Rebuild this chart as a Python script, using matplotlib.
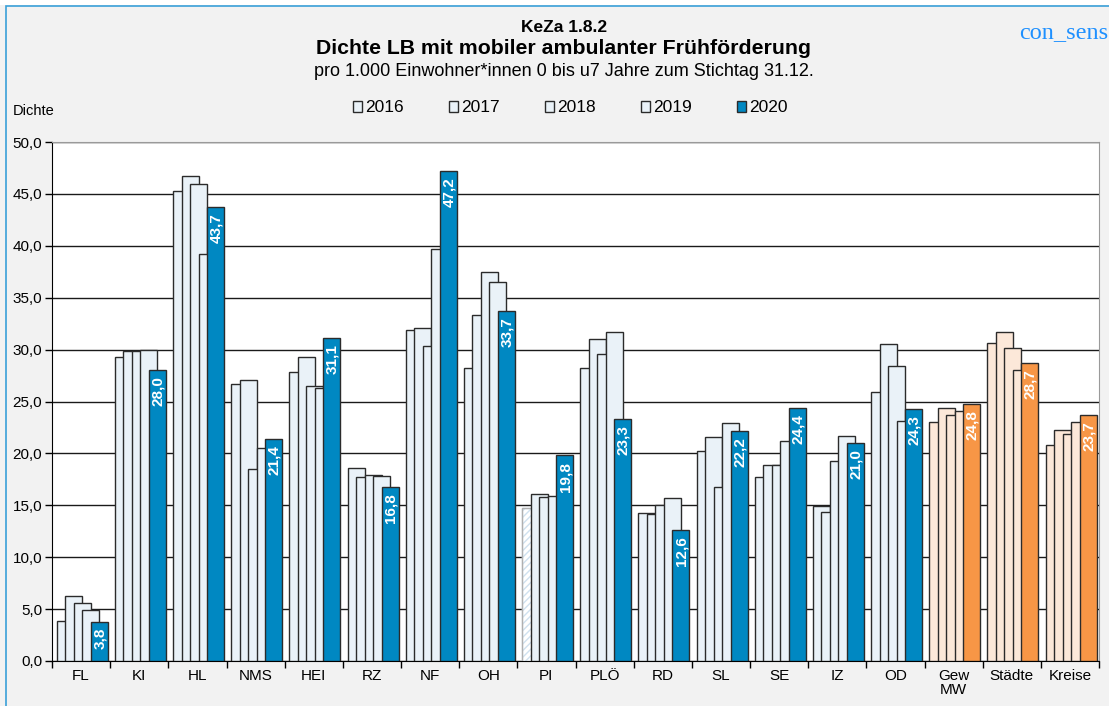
import numpy as np
import matplotlib.pyplot as plt
from matplotlib.patches import Rectangle, Patch

plt.rcParams['font.family'] = ['Liberation Sans', 'DejaVu Sans']

# Data
categories = ["FL", "KI", "HL", "NMS", "HEI", "RZ", "NF", "OH", "PI", "PLÖ",
              "RD", "SL", "SE", "IZ", "OD", "Gew\nMW", "Städte", "Kreise"]
years = ["2016", "2017", "2018", "2019", "2020"]
v2016 = [3.9, 29.3, 45.3, 26.7, 27.8, 18.6, 31.9, 28.2, 14.7, 28.2,
         14.3, 20.2, 17.7, 14.9, 25.9, 23.0, 30.6, 20.8]
v2017 = [6.3, 29.9, 46.7, 27.1, 29.3, 17.7, 32.1, 33.3, 16.1, 31.0,
         14.2, 21.6, 18.9, 14.4, 30.5, 24.4, 31.7, 22.3]
v2018 = [5.6, 29.9, 46.0, 18.5, 26.5, 17.9, 30.3, 37.5, 15.8, 29.6,
         15.0, 16.8, 18.9, 19.3, 28.4, 23.7, 30.2, 21.9]
v2019 = [4.9, 30.0, 39.2, 20.5, 26.3, 17.8, 39.7, 36.5, 15.9, 31.7,
         15.7, 22.9, 21.2, 21.7, 23.1, 24.1, 28.0, 23.0]
v2020 = [3.8, 28.0, 43.7, 21.4, 31.1, 16.8, 47.2, 33.7, 19.8, 23.3,
         12.6, 22.2, 24.4, 21.0, 24.3, 24.8, 28.7, 23.7]
series = [v2016, v2017, v2018, v2019, v2020]
nSummary = 3  # last three groups are summary values (orange)

lightBlue = "#EAF2F8"
darkBlue = "#0088C2"
lightOrange = "#FCE8D9"
darkOrange = "#F79646"
edge = "#2b2b2b"

fig = plt.figure(figsize=(11.09, 7.06), dpi=100, facecolor="#F2F2F2")
ax = fig.add_axes([52 / 1109, 45 / 706, 1047 / 1109, 519 / 706])
ax.set_facecolor("white")

x = np.arange(len(categories))
nCat = len(categories)
width = 0.292
step = 0.146

for k, vals in enumerate(series):
    last = k == len(series) - 1
    colors = []
    for i in range(nCat):
        summary = i >= nCat - nSummary
        if last:
            colors.append(darkOrange if summary else darkBlue)
        else:
            colors.append(lightOrange if summary else lightBlue)
    xs = x + (k - 2) * step + 0.02
    bars = ax.bar(xs, vals, width=width, color=colors, edgecolor=edge,
                  linewidth=1.0, zorder=3 + k)
    if k == 0:
        # PI 2016 is shown hatched
        pi = categories.index("PI")
        bars[pi].set_facecolor("white")
        bars[pi].set_hatch("/////")
        bars[pi].set_edgecolor("#cfe1ef")
        ax.bar(xs[pi], vals[pi], width=width, fill=False, edgecolor="#b0b0b0",
               linewidth=1.0, zorder=3.5)
    if last:
        for xi, v in zip(xs, vals):
            ax.text(xi + 0.01, v - 0.6, f"{v:.1f}".replace(".", ","), rotation=90,
                    ha="center", va="top", color="white", fontsize=11,
                    fontweight="bold", zorder=20)

ax.set_xlim(-0.5, nCat - 0.5)
ax.set_ylim(0, 50)
yt = np.arange(0, 51, 5)
ax.set_yticks(yt)
ax.set_yticklabels([f"{t:.1f}".replace(".", ",") for t in yt], fontsize=11)
ax.yaxis.grid(True, color="#1a1a1a", linewidth=1.0, zorder=1)
ax.set_axisbelow(True)
ax.tick_params(axis="y", direction="out", length=5, width=1, pad=2)

ax.set_xticks(x)
ax.set_xticklabels(categories, fontsize=11, linespacing=1.0)
ax.set_xticks(np.arange(-0.5, nCat, 1.0), minor=True)
ax.tick_params(axis="x", which="major", length=0, pad=6)
ax.tick_params(axis="x", which="minor", length=5, width=1, direction="out")

ax.spines["left"].set_color("black")
ax.spines["bottom"].set_color("black")
ax.spines["top"].set_color("#9a9a9a")
ax.spines["right"].set_color("#9a9a9a")

# Titles
fig.text(564 / 1109, 1 - 27 / 706, "KeZa 1.8.2", ha="center", va="center",
         fontsize=12.5, fontweight="bold")
fig.text(564 / 1109, 1 - 48 / 706, "Dichte LB mit mobiler ambulanter Frühförderung",
         ha="center", va="center", fontsize=15.3, fontweight="bold")
fig.text(564 / 1109, 1 - 72 / 706, "pro 1.000 Einwohner*innen 0 bis u7 Jahre zum Stichtag 31.12.",
         ha="center", va="center", fontsize=13)
fig.text(1019 / 1109, 1 - 33 / 706, "con_sens", ha="left", va="center",
         fontsize=17.5, color="#1E90FF", family="Liberation Serif")
fig.text(13 / 1109, 1 - 111 / 706, "Dichte", ha="left", va="center", fontsize=10.5)

# Legend
handles = [Patch(facecolor=lightBlue, edgecolor=edge, label=y) for y in years[:-1]]
handles.append(Patch(facecolor=darkBlue, edgecolor=edge, label=years[-1]))
fig.legend(handles=handles, ncol=5, loc="center", bbox_to_anchor=(570 / 1109, 1 - 108 / 706),
           frameon=False, fontsize=12.5, handlelength=0.55, handleheight=0.55,
           handletextpad=0.15, columnspacing=2.6)

# Outer frame
fig.add_artist(Rectangle((6 / 1109, -0.01), 1.02, 1 - 6 / 706 + 0.01, transform=fig.transFigure,
                         fill=False, edgecolor="#3aa0d8", linewidth=1.2))
fig.add_artist(Rectangle((0, 1 - 5 / 706), 1, 5 / 706, transform=fig.transFigure,
                         facecolor="white", edgecolor="none"))

plt.savefig("out.png", dpi=100, facecolor=fig.get_facecolor())
